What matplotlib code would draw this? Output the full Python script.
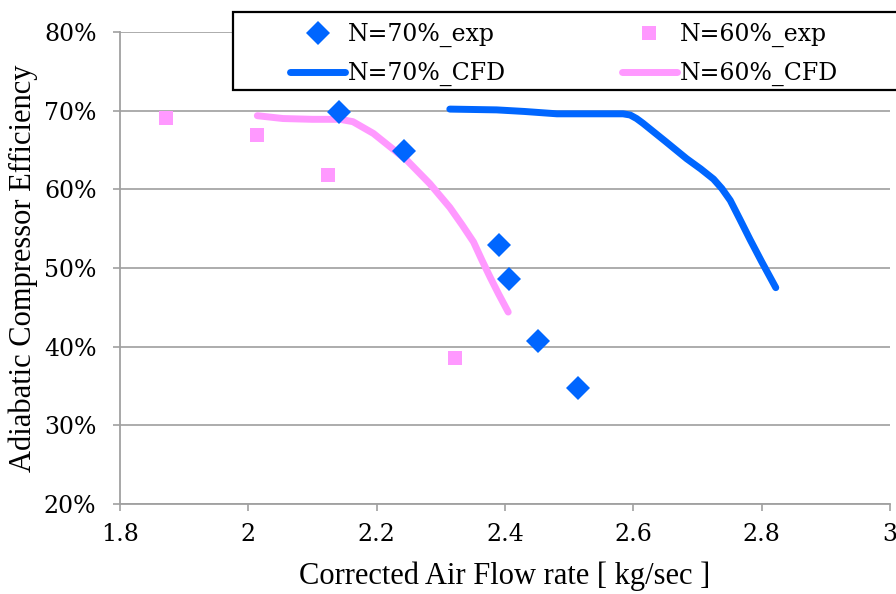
import numpy as np
import matplotlib
matplotlib.use("Agg")
import matplotlib.pyplot as plt
from matplotlib.patches import Rectangle
from matplotlib.ticker import FuncFormatter

# experimental points
exp70_x = [2.142, 2.243, 2.391, 2.406, 2.452, 2.513]
exp70_y = [69.8, 64.9, 52.95, 48.6, 40.7, 34.8]
exp60_x = [1.871, 2.014, 2.124, 2.322]
exp60_y = [69.1, 66.9, 61.8, 38.5]

# CFD curves
cfd70_x = [2.314, 2.35, 2.387, 2.43, 2.481, 2.53, 2.584, 2.595, 2.605, 2.615, 2.65, 2.683, 2.705, 2.725, 2.738, 2.751, 2.766, 2.782, 2.80, 2.822]
cfd70_y = [70.2, 70.15, 70.1, 69.9, 69.6, 69.6, 69.6, 69.45, 69.0, 68.4, 66.1, 63.9, 62.6, 61.3, 60.1, 58.6, 56.2, 53.6, 50.8, 47.5]
cfd60_x = [2.014, 2.054, 2.10, 2.143, 2.163, 2.195, 2.247, 2.283, 2.314, 2.333, 2.351, 2.364, 2.377, 2.39, 2.405]
cfd60_y = [69.36, 69.0, 68.9, 68.9, 68.6, 67.1, 63.7, 60.7, 57.7, 55.5, 53.3, 51.0, 48.8, 46.7, 44.4]

labels = ["N=70%_exp", "N=60%_exp", "N=70%_CFD", "N=60%_CFD"]
blue = "#0066FF"
pink = "#FF99FF"

fig = plt.figure(figsize=(8.96, 5.94), dpi=100)
ax = fig.add_axes([120 / 896, 1 - 504 / 594, 770 / 896, 472 / 594])

l3, = ax.plot(cfd70_x, cfd70_y, color=blue, lw=5, solid_capstyle="round", zorder=3)
l4, = ax.plot(cfd60_x, cfd60_y, color=pink, lw=5, solid_capstyle="round", zorder=3)
l1, = ax.plot(exp70_x, exp70_y, "D", color=blue, ms=12, mew=0, ls="none", zorder=4)
l2, = ax.plot(exp60_x, exp60_y, "s", color=pink, ms=10.5, mew=0, ls="none", zorder=2)

ax.set_xlim(1.8, 3.0)
ax.set_ylim(20, 80)
ax.set_xticks(np.arange(1.8, 3.01, 0.2))
ax.set_yticks(np.arange(20, 81, 10))
ax.xaxis.set_major_formatter(FuncFormatter(lambda v, p: "%g" % round(v, 1)))
ax.yaxis.set_major_formatter(FuncFormatter(lambda v, p: "%d%%" % v))

ax.grid(axis="y", color="#A6A6A6", lw=1.3)
ax.set_axisbelow(True)
for s in ["top", "right"]:
    ax.spines[s].set_visible(False)
for s in ["left", "bottom"]:
    ax.spines[s].set_color("#A0A0A0")
    ax.spines[s].set_linewidth(1.3)
ax.tick_params(colors="#A0A0A0", length=5, width=1.2, labelcolor="black", labelsize=17)
ax.tick_params(axis="y", pad=12)
ax.tick_params(axis="x", pad=9)
for t in ax.get_xticklabels() + ax.get_yticklabels():
    t.set_family("DejaVu Serif")

ax.set_xlabel("Corrected Air Flow rate [ kg/sec ]", family="Liberation Serif",
              fontsize=22, labelpad=11)
ax.set_ylabel("Adiabatic Compressor Efficiency", family="Liberation Serif",
              fontsize=22, labelpad=4)

# legend frame drawn separately, box runs off the right edge like the original
box = Rectangle((233 / 896, 1 - 90 / 594), 670 / 896, 78 / 594, transform=fig.transFigure,
                facecolor="white", edgecolor="black", lw=1.6, clip_on=False, zorder=5)
fig.patches.append(box)

leg = fig.legend([l1, l3, l2, l4], [labels[0], labels[2], labels[1], labels[3]], ncol=2,
                 bbox_to_anchor=(290 / 896, 1 - 23 / 594), loc="upper left",
                 frameon=False, borderaxespad=0, borderpad=0,
                 prop={"family": "DejaVu Serif", "size": 17}, handlelength=2.35,
                 handletextpad=0.1, labelspacing=0.62, columnspacing=4.9)
leg.set_zorder(6)

fig.savefig("out.png", dpi=100)
